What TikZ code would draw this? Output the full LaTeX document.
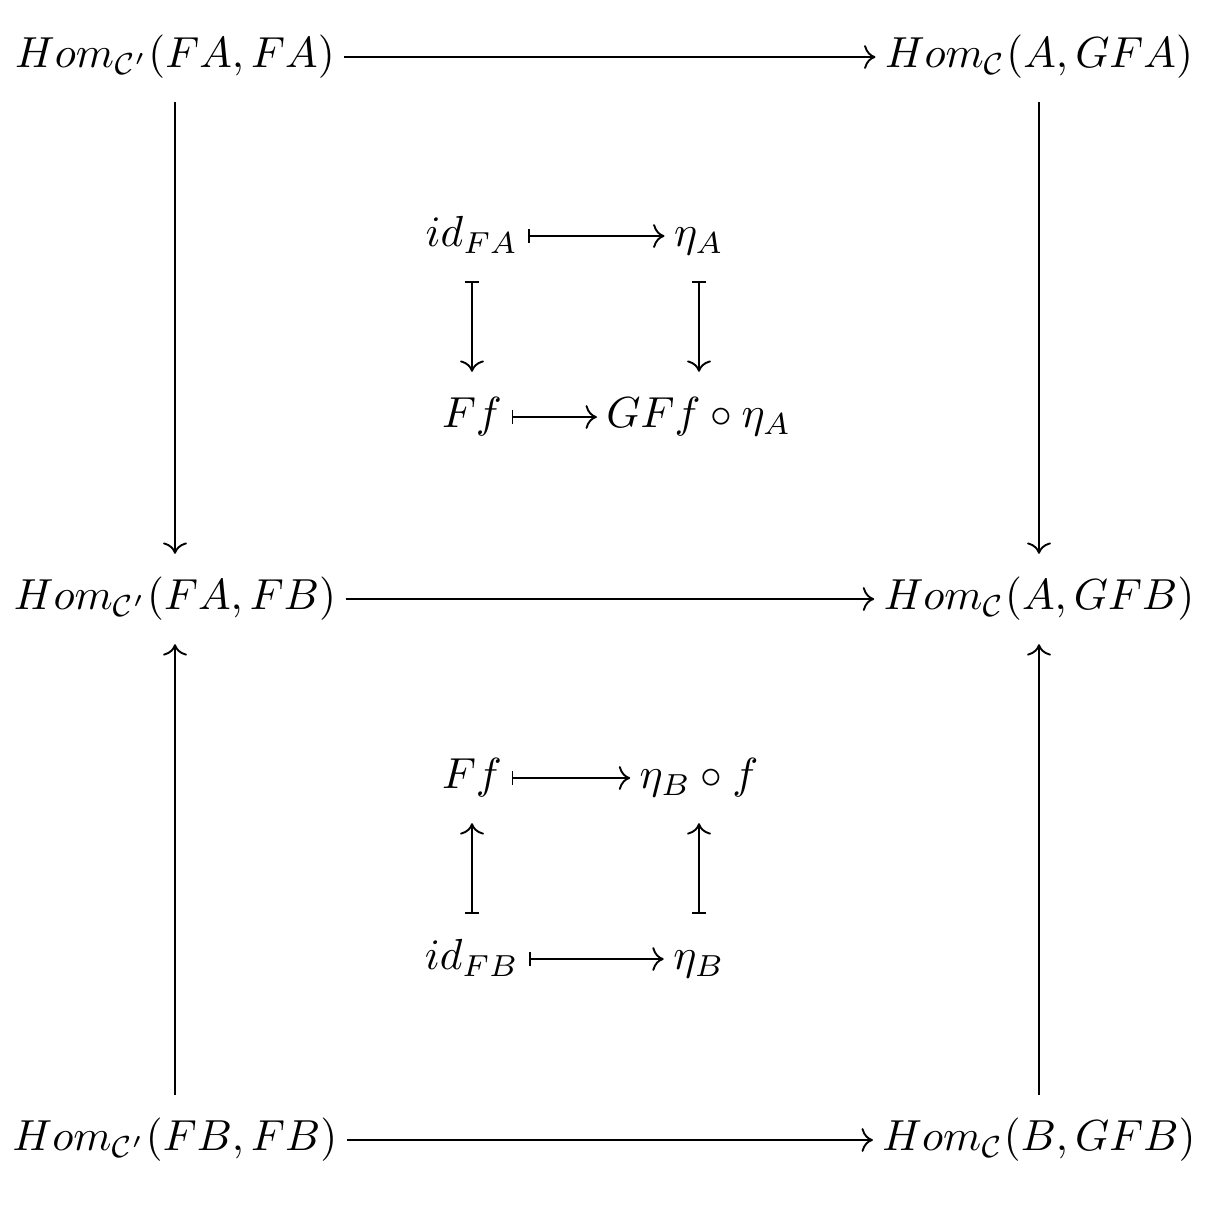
\documentclass[tikz,border=0pt]{standalone}
\usepackage{amsmath}
\usetikzlibrary{arrows.meta}
\tikzset{
  obj/.style={scale=0.965,inner xsep=2pt,inner ysep=5.2pt,text height=7.5pt,text depth=2.5pt},
  ar/.style={-{To},line width=0.42pt},
  mto/.style={{Bar[width=3pt]}-{To},line width=0.42pt}
}
\begin{document}
\begin{tikzpicture}[x=0.222pt,y=-0.222pt]
\useasboundingbox (0,0) rectangle (1220,1210);
% outer square
\node[obj] (hFAFA) at (175,57) {$Hom_{\mathcal{C}'}(FA,FA)$};
\node[obj] (hAGFA) at (1039,57) {$Hom_{\mathcal{C}}(A,GFA)$};
\node[obj] (hFAFB) at (175,599) {$Hom_{\mathcal{C}'}(FA,FB)$};
\node[obj] (hAGFB) at (1039,599) {$Hom_{\mathcal{C}}(A,GFB)$};
\node[obj] (hFBFB) at (175,1140) {$Hom_{\mathcal{C}'}(FB,FB)$};
\node[obj] (hBGFB) at (1039,1140) {$Hom_{\mathcal{C}}(B,GFB)$};
\draw[ar] (hFAFA) -- (hAGFA);
\draw[ar] (hFAFB) -- (hAGFB);
\draw[ar] (hFBFB) -- (hBGFB);
\draw[ar] (hFAFA) -- (hFAFB);
\draw[ar] (hAGFA) -- (hAGFB);
\draw[ar] (hFBFB) -- (hFAFB);
\draw[ar] (hBGFB) -- (hAGFB);
% elements, upper square
\node[obj] (idA) at (472,236) {$id_{FA}$};
\node[obj] (etaA) at (699,236) {$\eta_A$};
\node[obj] (FfA) at (472,417) {$Ff$};
\node[obj] (GFf) at (699,417) {$GFf\circ\eta_A$};
\draw[mto] (idA) -- (etaA);
\draw[mto] (FfA) -- (GFf);
\draw[mto] (idA) -- (FfA);
\draw[mto] (etaA) -- (GFf);
% elements, lower square
\node[obj] (FfB) at (472,778) {$Ff$};
\node[obj] (etaBf) at (699,778) {$\eta_B\circ f$};
\node[obj] (idB) at (472,959) {$id_{FB}$};
\node[obj] (etaB) at (699,959) {$\eta_B$};
\draw[mto] (FfB) -- (etaBf);
\draw[mto] (idB) -- (etaB);
\draw[mto] (idB) -- (FfB);
\draw[mto] (etaB) -- (etaBf);
\end{tikzpicture}
\end{document}
